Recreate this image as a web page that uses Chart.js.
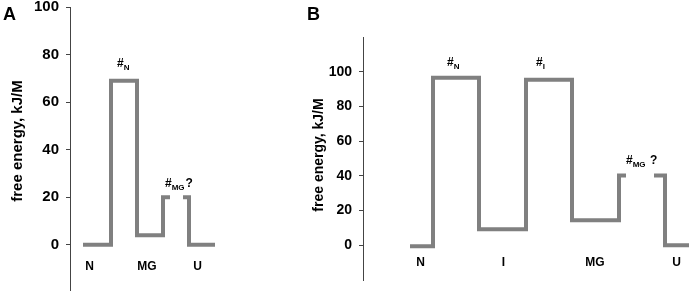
<!DOCTYPE html>
<html><head><meta charset="utf-8">
<script src="https://cdn.jsdelivr.net/npm/chart.js@4"></script>
<style>
html,body{margin:0;padding:0;background:#fff;width:692px;height:293px;overflow:hidden}
#wa{position:absolute;left:0;top:0;width:230px;height:293px}
#wb{position:absolute;left:230px;top:0;width:462px;height:293px}
</style></head><body>
<div id="wa"><canvas id="ca"></canvas></div>
<div id="wb"><canvas id="cb"></canvas></div>
<script>
// Panel A: reaction coordinate edges and free energy levels (kJ/M)
const aX = [2.6, 8.2, 13.4, 18.6, 20.0, 21.3, 22.6, 23.8, 29.0];
const aG = [0, 69, 4, 20, 20, null, 20, 0, 0];
const aStates = ['N', 'MG', 'U'];
const aStateX = [3.9, 15.4, 25.5];
const aStateY = -10.5;
const aNoteX = [9.4, 19.0];
const aNoteY = [74.9, 24.4];
const aNoteSub = ['N', 'MG'];
const aNoteTail = ['', '?'];
const aTicks = [0, 20, 40, 60, 80, 100];

// Panel B
const bX = [9.4, 14.0, 23.2, 32.6, 41.8, 51.2, 52.6, 55.4, 58.2, 60.4, 65.2];
const bG = [-0.5, 96.5, 9.2, 95.4, 14.4, 40.2, 40.2, null, 40.2, 0, 0];
const bStates = ['N', 'I', 'MG', 'U'];
const bStateX = [11.5, 28.1, 46.4, 62.7];
const bStateY = -12.1;
const bNoteX = [16.8, 34.6, 52.6];
const bNoteY = [103.1, 103.1, 46.7];
const bNoteSub = ['N', 'I', 'MG'];
const bNoteTail = ['', '', ' ?'];
const bTicks = [0, 20, 40, 60, 80, 100];

const yTitle = 'free energy, kJ/M';
const FAM = '"Liberation Sans", Arial, sans-serif';

function textPlugin(states, stX, stY, nX, nY, nSub, nTail, panel, panelX, titleX, titleY, titleSize) {
  return {
    id: 'txt',
    afterDraw(chart) {
      const ctx = chart.ctx, xs = chart.scales.x, ys = chart.scales.y;
      ctx.save();
      ctx.fillStyle = '#000';
      ctx.textBaseline = 'alphabetic';
      ctx.textAlign = 'center';
      ctx.font = 'bold 12px ' + FAM;
      states.forEach((s, i) => ctx.fillText(s, xs.getPixelForValue(stX[i]), ys.getPixelForValue(stY)));
      ctx.textAlign = 'left';
      nX.forEach((v, i) => {
        let x = xs.getPixelForValue(v), y = ys.getPixelForValue(nY[i]);
        ctx.font = 'bold 12px ' + FAM;
        ctx.fillText('#', x, y);
        x += ctx.measureText('#').width;
        ctx.font = 'bold 8px ' + FAM;
        ctx.fillText(nSub[i], x, y + 3);
        x += ctx.measureText(nSub[i]).width + 1;
        ctx.font = 'bold 12px ' + FAM;
        ctx.fillText(nTail[i], x, y);
      });
      ctx.font = 'bold 18px ' + FAM;
      ctx.fillText(panel, panelX, 20);
      ctx.translate(titleX, titleY);
      ctx.rotate(-Math.PI / 2);
      ctx.textAlign = 'center';
      ctx.textBaseline = 'middle';
      ctx.font = 'bold ' + titleSize + 'px ' + FAM;
      ctx.fillText(yTitle, 0, 0);
      ctx.restore();
    }
  };
}

function makeChart(id, xs, gs, ticks, yMin, yMax, xMax, axisW, pad, tickSize, plugin) {
  return new Chart(document.getElementById(id), {
    type: 'line',
    data: { datasets: [{
      data: xs.map((x, i) => ({ x: x, y: gs[i] })),
      borderColor: '#808080', borderWidth: 4, pointRadius: 0,
      stepped: 'before', spanGaps: false, fill: false,
      borderCapStyle: 'butt', borderJoinStyle: 'miter'
    }] },
    options: {
      responsive: true, maintainAspectRatio: false, animation: false,
      layout: { padding: pad, autoPadding: false },
      plugins: { legend: { display: false }, tooltip: { enabled: false } },
      scales: {
        x: { type: 'linear', display: false, min: 0, max: xMax },
        y: {
          type: 'linear', min: yMin, max: yMax,
          afterBuildTicks: s => { s.ticks = ticks.map(v => ({ value: v })); },
          afterFit: s => { s.width = axisW; s.paddingTop = 0; s.paddingBottom = 0; },
          grid: { drawOnChartArea: false, drawTicks: true, tickLength: 4, color: '#444' },
          border: { display: true, color: '#444', width: 1 },
          ticks: { color: '#000', padding: 7, font: { family: FAM, size: tickSize, weight: 'bold' } }
        }
      }
    },
    plugins: [plugin]
  });
}

makeChart('ca', aX, aG, aTicks, -19, 100, 32, 70, { top: 7, bottom: 3, left: 0, right: 0 }, 15,
  textPlugin(aStates, aStateX, aStateY, aNoteX, aNoteY, aNoteSub, aNoteTail, 'A', 3, 17.5, 141, 15));
makeChart('cb', bX, bG, bTicks, -20, 120, 65.8, 133, { top: 37, bottom: 13, left: 0, right: 0 }, 14,
  textPlugin(bStates, bStateX, bStateY, bNoteX, bNoteY, bNoteSub, bNoteTail, 'B', 77, 89, 155, 14));
</script>
</body></html>
